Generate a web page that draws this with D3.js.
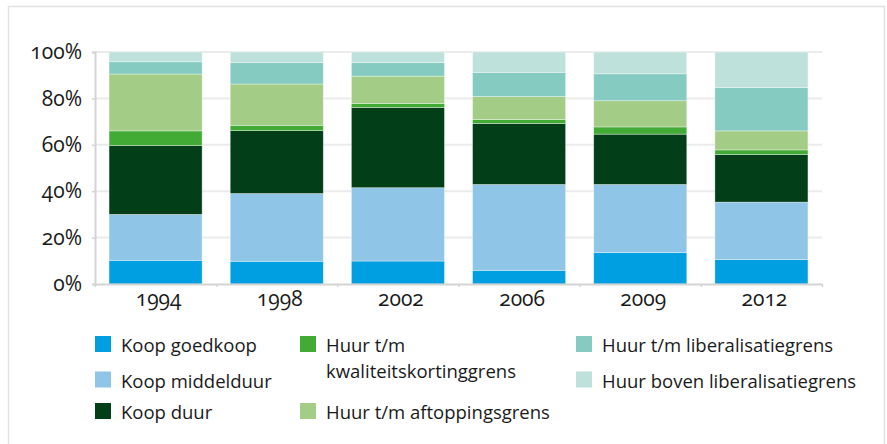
<!DOCTYPE html>
<html>
<head>
<meta charset="utf-8">
<script src="https://cdn.jsdelivr.net/npm/d3@7"></script>
<style>
  body { margin: 0; background: #fff; }
  svg { display: block; font-family: "Open Sans", sans-serif; }
  .tick text { font-variant-numeric: oldstyle-nums; }
</style>
</head>
<body>
<div id="chart"></div>
<script>
// Data (share of dwellings, %)
const years = ["1994", "1998", "2002", "2006", "2009", "2012"];

const koopGoedkoop   = [10.2,  9.8,  9.9,  5.9, 13.5, 10.5];
const koopMiddelduur = [19.8, 29.2, 31.6, 37.0, 29.4, 24.8];
const koopDuur       = [29.7, 27.1, 34.6, 26.3, 21.7, 20.5];
const huurKwaliteit  = [ 6.3,  2.3,  1.7,  1.7,  3.1,  2.0];
const huurAftopping  = [24.5, 17.8, 11.8,  9.9, 11.3,  8.2];
const huurLiberal    = [ 5.3,  9.3,  5.8, 10.3, 11.6, 18.7];
const huurBoven      = [ 4.2,  4.5,  4.6,  8.9,  9.4, 15.3];

const seriesNames = [
  "Koop goedkoop", "Koop middelduur", "Koop duur",
  "Huur t/m kwaliteitskortinggrens", "Huur t/m aftoppingsgrens",
  "Huur t/m liberalisatiegrens", "Huur boven liberalisatiegrens"
];
const seriesValues = [koopGoedkoop, koopMiddelduur, koopDuur, huurKwaliteit,
                      huurAftopping, huurLiberal, huurBoven];
const yTicks = [0, 20, 40, 60, 80, 100];

const colors = ["#009fe1", "#8fc6e8", "#023f19", "#42ab35", "#a3cd86", "#85cbc1", "#bee1db"];

// build rows for d3.stack
const rows = years.map((y, i) => {
  const row = {year: y};
  seriesNames.forEach((s, j) => row[s] = seriesValues[j][i]);
  return row;
});

const width = 887, height = 444;
const margin = {left: 95, right: 65, top: 52, bottom: 160};
const font = "'Open Sans', sans-serif";

const svg = d3.select("#chart").append("svg")
  .attr("width", width)
  .attr("height", height);

// outer frame
svg.append("rect")
  .attr("x", 8.5).attr("y", 6.5)
  .attr("width", 876).attr("height", 460)
  .attr("fill", "none")
  .attr("stroke", "#e2e2e2")
  .attr("stroke-width", 1.5);

const x = d3.scaleBand()
  .domain(years)
  .range([margin.left, width - margin.right])
  .paddingInner(0.232)
  .paddingOuter(0.116);

const xEdge = d3.scaleLinear()
  .domain([0, years.length])
  .range([margin.left, width - margin.right]);

const y = d3.scaleLinear()
  .domain([0, 100])
  .range([height - margin.bottom, margin.top]);

const color = d3.scaleOrdinal().domain(seriesNames).range(colors);

// gridlines
svg.append("g")
  .selectAll("line")
  .data(yTicks.filter(d => d > 0))
  .join("line")
  .attr("x1", margin.left).attr("x2", width - margin.right)
  .attr("y1", d => y(d)).attr("y2", d => y(d))
  .attr("stroke", "#ebebeb")
  .attr("stroke-width", 2);

// stacked bars
const stacked = d3.stack().keys(seriesNames)(rows);

svg.append("g")
  .selectAll("g")
  .data(stacked)
  .join("g")
  .attr("fill", d => color(d.key))
  .selectAll("rect")
  .data(d => d)
  .join("rect")
  .attr("x", d => x(d.data.year))
  .attr("width", x.bandwidth())
  .attr("y", d => y(d[1]))
  .attr("height", d => y(d[0]) - y(d[1]))
  .attr("stroke", "#ffffff")
  .attr("stroke-opacity", 0.5)
  .attr("stroke-width", 0.7);

// y axis
const yAxis = svg.append("g")
  .attr("transform", `translate(${margin.left},0)`)
  .call(d3.axisLeft(y).tickValues(yTicks).tickSize(3).tickPadding(10).tickFormat(d => d + "%"))
  .attr("font-family", font);
yAxis.select(".domain").attr("stroke", "#d4d4d4").attr("stroke-width", 2);
yAxis.selectAll(".tick line").attr("stroke", "#d4d4d4").attr("stroke-width", 1.5);
yAxis.selectAll(".tick text").attr("font-size", 21).attr("fill", "#1a1a1a");

// x axis: line and ticks at band edges
const xEdgeAxis = svg.append("g")
  .attr("transform", `translate(0,${y(0)})`)
  .call(d3.axisBottom(xEdge).ticks(years.length).tickSize(3).tickSizeOuter(0).tickFormat(""));
xEdgeAxis.select(".domain").attr("stroke", "#d4d4d4").attr("stroke-width", 2);
xEdgeAxis.selectAll(".tick line").attr("stroke", "#d4d4d4").attr("stroke-width", 1.5);

// x axis labels
const xAxis = svg.append("g")
  .attr("transform", `translate(3,${y(0)})`)
  .call(d3.axisBottom(x).tickSize(0).tickPadding(7))
  .attr("font-family", font);
xAxis.select(".domain").remove();
xAxis.selectAll(".tick text").attr("font-size", 21).attr("fill", "#1a1a1a");

// legend
const legendItems = [
  {name: seriesNames[0], col: 0, row: 0},
  {name: seriesNames[1], col: 0, row: 1},
  {name: seriesNames[2], col: 0, row: 2},
  {name: seriesNames[3], col: 1, row: 0, lines: ["Huur t/m", "kwaliteitskortinggrens"]},
  {name: seriesNames[4], col: 1, row: 2},
  {name: seriesNames[5], col: 2, row: 0},
  {name: seriesNames[6], col: 2, row: 1}
];
const colX = [95, 300, 576];
const rowY = [336, 371.5, 403];

const legend = svg.append("g")
  .selectAll("g")
  .data(legendItems)
  .join("g")
  .attr("transform", d => `translate(${colX[d.col]},${rowY[d.row]})`);

legend.append("rect")
  .attr("width", 16).attr("height", 16)
  .attr("fill", d => color(d.name));

legend.append("text")
  .attr("x", 26)
  .attr("font-size", 18.5)
  .attr("fill", "#1a1a1a")
  .selectAll("tspan")
  .data(d => (d.lines || [d.name]))
  .join("tspan")
  .attr("x", 26)
  .attr("y", (d, i) => 16 + i * 26)
  .text(d => d);
</script>
</body>
</html>
